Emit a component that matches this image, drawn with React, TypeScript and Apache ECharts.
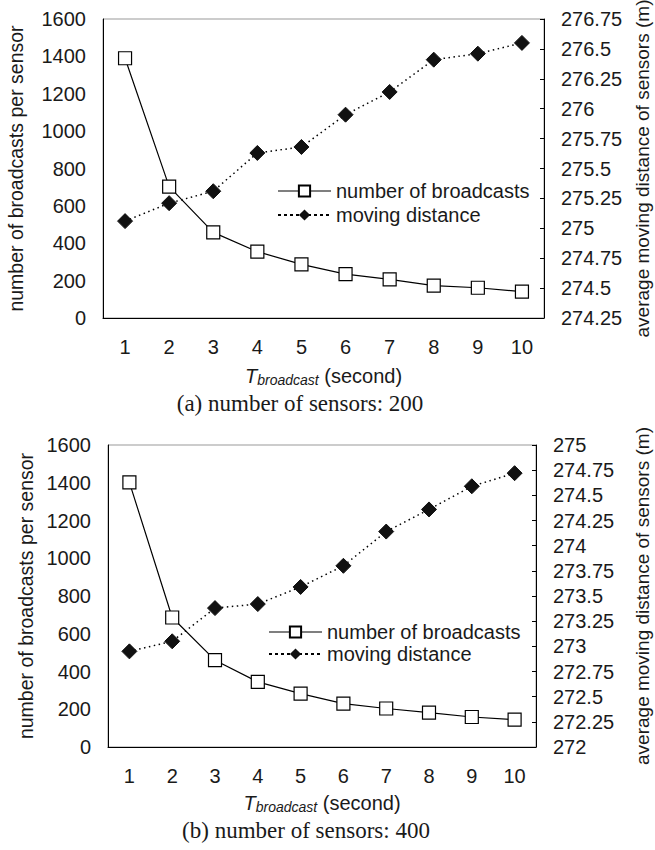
import React, { useEffect, useRef } from "react";
import * as echarts from "echarts";

const categories = ["1", "2", "3", "4", "5", "6", "7", "8", "9", "10"];
const broadcastsA = [1390, 703, 458, 355, 287, 235, 207, 173, 162, 141];
const distanceA = [275.06, 275.21, 275.31, 275.63, 275.68, 275.95, 276.14, 276.41, 276.46, 276.55];
const broadcastsB = [1402, 686, 460, 345, 283, 230, 204, 182, 159, 145];
const distanceB = [272.95, 273.05, 273.38, 273.42, 273.59, 273.8, 274.14, 274.36, 274.59, 274.72];
const seriesNames = ["number of broadcasts", "moving distance"];
const leftTitle = "number of broadcasts per sensor";
const rightTitle = "average moving distance of sensors (m)";
const captions = ["(a) number of sensors: 200", "(b) number of sensors: 400"];

const FONT = "Liberation Sans";
const TXT = "#1a1a1a";
const FS = 20;

export default function App() {
  const ref = useRef<HTMLDivElement>(null);
  useEffect(() => {
    const chart = echarts.init(ref.current!, undefined, { renderer: "svg" });
    const grids = [
      { left: 103, top: 19, width: 441, height: 299 },
      { left: 108, top: 445, width: 428, height: 302 },
    ];
    const rightRanges = [
      [274.25, 276.75],
      [272, 275],
    ];
    const xNameGap = [46, 44];
    const leftGap = [77, 72];
    const rightGap = [89, 97];
    const xAxis = grids.map((g, i) => ({
      type: "category",
      gridIndex: i,
      data: categories,
      boundaryGap: true,
      axisLine: { lineStyle: { color: "#000", width: 1 } },
      axisTick: { inside: true, length: 5, lineStyle: { color: "#000" } },
      axisLabel: { color: TXT, fontSize: FS, fontFamily: FONT, margin: 19 },
      name: "{i|T}{s|broadcast}{n| (second)}",
      nameLocation: "middle",
      nameGap: xNameGap[i],
      nameTextStyle: {
        color: TXT,
        fontFamily: FONT,
        rich: {
          i: { fontSize: FS, fontStyle: "italic", fontFamily: FONT, color: TXT },
          s: { fontSize: 14, fontStyle: "italic", fontFamily: FONT, color: TXT, padding: [9, 0, 0, 0] },
          n: { fontSize: FS, fontFamily: FONT, color: TXT },
        },
      },
    }));
    const yAxis: any[] = [];
    grids.forEach((g, i) => {
      yAxis.push({
        type: "value",
        gridIndex: i,
        min: 0,
        max: 1600,
        interval: 200,
        position: "left",
        axisLine: { show: true, lineStyle: { color: "#000" } },
        axisTick: { show: false },
        splitLine: { show: false },
        axisLabel: { color: TXT, fontSize: FS, fontFamily: FONT, margin: 17, formatter: (v: number) => String(v) },
        name: leftTitle,
        nameLocation: "middle",
        nameRotate: 90,
        nameGap: leftGap[i],
        nameTextStyle: { color: TXT, fontSize: 19.5, fontFamily: FONT },
      });
      yAxis.push({
        type: "value",
        gridIndex: i,
        min: rightRanges[i][0],
        max: rightRanges[i][1],
        interval: 0.25,
        position: "right",
        axisLine: { show: true, lineStyle: { color: "#000" } },
        axisTick: { show: true, inside: true, length: 4, lineStyle: { color: "#000" } },
        splitLine: { show: false },
        axisLabel: { color: TXT, fontSize: FS, fontFamily: FONT, margin: 17, formatter: (v: number) => String(v) },
        name: rightTitle,
        nameLocation: "middle",
        nameRotate: 90,
        nameGap: rightGap[i],
        nameTextStyle: { color: TXT, fontSize: 19, fontFamily: FONT },
      });
    });
    const bData = [broadcastsA, broadcastsB];
    const dData = [distanceA, distanceB];
    const series: any[] = [];
    grids.forEach((g, i) => {
      series.push({
        name: seriesNames[0],
        type: "line",
        xAxisIndex: i,
        yAxisIndex: i * 2,
        data: bData[i],
        symbol: "rect",
        symbolSize: 13,
        z: 3,
        lineStyle: { color: "#000", width: 1.2, type: "solid" },
        itemStyle: { color: "#fff", borderColor: "#000", borderWidth: 1.2 },
      });
      series.push({
        name: seriesNames[1],
        type: "line",
        xAxisIndex: i,
        yAxisIndex: i * 2 + 1,
        data: dData[i],
        symbol: "diamond",
        symbolSize: 15,
        z: 2,
        lineStyle: { color: "#000", width: 1.5, type: [1.5, 3.5] },
        itemStyle: { color: "#111", borderColor: "#111" },
      });
    });
    const legendPos = [
      { left: 277, top: 181, itemGap: 4 },
      { left: 268, top: 622, itemGap: 2 },
    ];
    const legend = legendPos.map((p) => ({
      data: [
        { name: seriesNames[0], lineStyle: { width: 1.2, type: "solid" } },
        { name: seriesNames[1], lineStyle: { width: 2, type: [3, 3] } },
      ],
      orient: "vertical",
      left: p.left,
      top: p.top,
      padding: 0,
      itemGap: p.itemGap,
      itemWidth: 53,
      itemHeight: 14,
      selectedMode: false,
      textStyle: { color: TXT, fontSize: FS, fontFamily: FONT, lineHeight: 20 },
    }));
    chart.setOption({
      animation: false,
      backgroundColor: "#fff",
      grid: grids.map((g) => ({
        ...g,
        containLabel: false,
        outerBoundsMode: "none",
        show: true,
        borderColor: "#999",
        borderWidth: 1,
        backgroundColor: "transparent",
      })),
      xAxis,
      yAxis,
      series,
      legend,
      graphic: [
        {
          type: "text",
          x: 300,
          y: 403,
          style: { text: captions[0], font: "23px 'Liberation Serif'", fill: TXT, textAlign: "center", textVerticalAlign: "middle" },
        },
        {
          type: "text",
          x: 306,
          y: 830,
          style: { text: captions[1], font: "23px 'Liberation Serif'", fill: TXT, textAlign: "center", textVerticalAlign: "middle" },
        },
      ],
    });
    return () => chart.dispose();
  }, []);
  return <div ref={ref} style={{ position: "absolute", left: 0, top: 0, width: 655, height: 850 }} />;
}
